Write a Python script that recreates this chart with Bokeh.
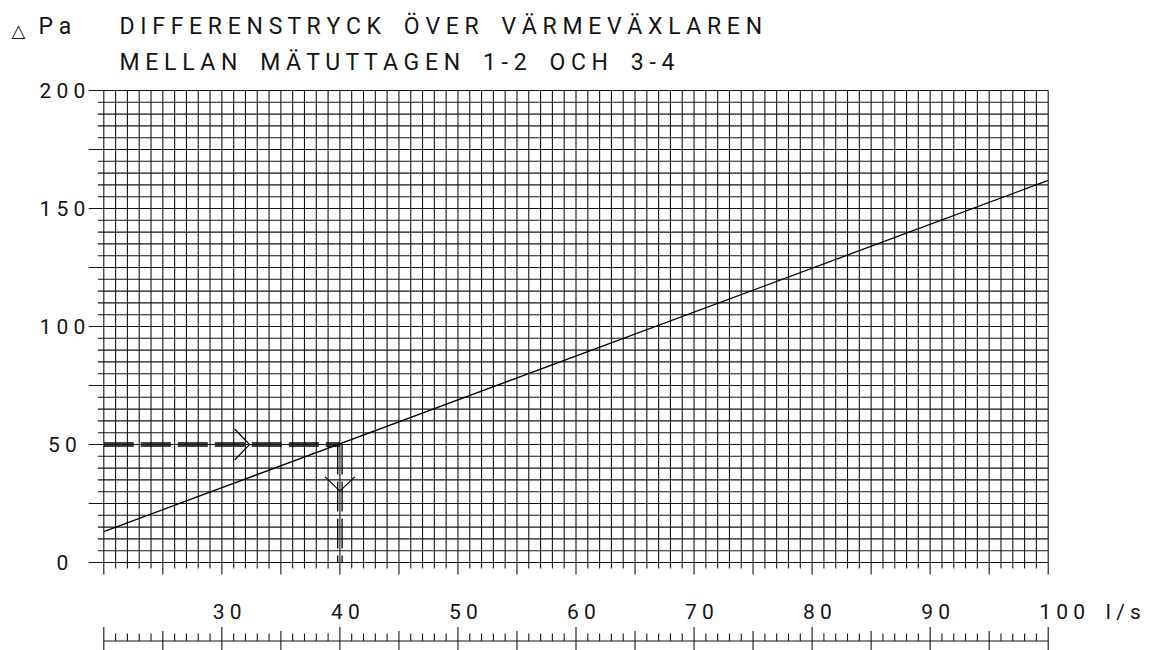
import numpy as np
from bokeh.plotting import figure
from bokeh.models import Range1d
from bokeh.core.properties import value
from bokeh.embed import file_html
from bokeh.resources import INLINE

# ---------------- data ----------------
flow_min, flow_max = 20, 100          # l/s
dp_min, dp_max = 0, 200               # Pa
flow_ticks = [30, 40, 50, 60, 70, 80, 90, 100]
flow_labels = ["30", "40", "50", "60", "70", "80", "90", "100 l/s"]
dp_ticks = [0, 50, 100, 150, 200]
dp_labels = ["0", "50", "100", "150", "200"]
curve_flow = [20, 100]
curve_dp = [13.1, 161.9]
example_flow = 40
example_dp = 50
arrow_h_flow = 32.35
arrow_v_dp = 30.2
title_text = ["DIFFERENSTRYCK ÖVER VÄRMEVÄXLAREN", "MELLAN MÄTUTTAGEN 1-2 OCH 3-4"]
unit_text = "Pa"

# ---------------- layout ----------------
PXX = 11.805     # px per l/s
PXY = 2.36       # px per Pa
REF_X20 = 103.3  # page px of flow 20
REF_Y0 = 562.0   # page px of 0 Pa
W, H = 1156, 650

x_start = flow_min - REF_X20 / PXX
x_end = x_start + W / PXX
y_top = REF_Y0 / PXY
y_bot = y_top - H / PXY

def fx(px):
    return flow_min + (px - REF_X20) / PXX

def fy(px):
    return (REF_Y0 - px) / PXY

def dx(px):
    return px / PXX

def dy(px):
    return px / PXY

INK = "#141414"
FONT = value("Roboto")
NB = "\u00a0"

def spaced(s, word_gap=4):
    gap = " " + NB * (word_gap - 2) + " "
    return gap.join(" ".join(w) for w in s.split())

p = figure(width=W, height=H, x_range=Range1d(x_start, x_end), y_range=Range1d(y_bot, y_top),
           output_backend="svg", toolbar_location=None, x_axis_type=None, y_axis_type=None,
           min_border=0, min_border_left=0, min_border_right=0, min_border_top=0, min_border_bottom=0)
p.outline_line_color = None
p.background_fill_color = "white"
p.border_fill_color = "white"

# grid: vertical lines every 1 l/s
gx = np.arange(flow_min, flow_max + 1, 1)
v_ext = np.where(gx % 5 == 0, dy(12), dy(6))
p.segment(x0=gx, y0=dp_min - v_ext, x1=gx, y1=dp_max, line_color=INK, line_width=1.1)

# grid: horizontal lines every 5 Pa
gy = np.arange(dp_min, dp_max + 1, 5)
h_ext = np.where(gy % 25 == 0, dx(15), dx(6))
p.segment(x0=flow_min - h_ext, y0=gy, x1=flow_max, y1=gy, line_color=INK, line_width=1.1)

# bottom ruler
ruler_y = fy(640.5)
p.segment(x0=[flow_min], y0=[ruler_y], x1=[flow_max], y1=[ruler_y], line_color=INK, line_width=1.1)
up = np.where(gx % 10 == 0, 14, np.where(gx % 5 == 0, 10, 7.5))
down = np.where(gx % 5 == 0, 14, 0)
p.segment(x0=gx, y0=ruler_y - dy(down), x1=gx, y1=ruler_y + dy(up), line_color=INK, line_width=1.1)

# ruler labels (anchor = visual centre of digits)
p.text(x=flow_ticks, y=[fy(611.5)] * len(flow_ticks), text=[spaced(t) for t in flow_labels],
       x_offset=-9, text_align="left", text_baseline="middle", text_font=FONT,
       text_font_size="21px", text_color=INK)

# y labels
p.text(x=[fx(62)] * len(dp_ticks), y=dp_ticks, text=[spaced(t) for t in dp_labels],
       text_align="center", text_baseline="middle", text_font=FONT,
       text_font_size="21px", text_color=INK)

# titles
p.text(x=[fx(119)] * 2, y=[fy(26), fy(62)], text=[spaced(t) for t in title_text],
       text_align="left", text_baseline="middle", text_font=FONT,
       text_font_size="23px", text_color=INK)
p.text(x=[fx(38)], y=[fy(26)], text=[spaced(unit_text)], text_align="left",
       text_baseline="middle", text_font=FONT, text_font_size="23px", text_color=INK)
p.text(x=[fx(11)], y=[fy(30)], text=["△"], text_align="left", text_baseline="middle",
       text_font=value("DejaVu Sans"), text_font_size="18px", text_color=INK)

# curve
p.line(curve_flow, curve_dp, line_color="black", line_width=1.3)

# dashed double guide lines
for o in (-dy(1.5), dy(1.5)):
    p.line([flow_min, example_flow], [example_dp + o] * 2, line_color="black",
           line_width=1.4, line_dash="30 7")
for o in (-dx(2.2), dx(2.2)):
    p.line([example_flow + o] * 2, [example_dp, dp_min], line_color="black",
           line_width=1.3, line_dash="30 7")

# arrow heads
p.line([arrow_h_flow - dx(15), arrow_h_flow, arrow_h_flow - dx(15)],
       [example_dp + dy(15.5), example_dp, example_dp - dy(15.5)], line_color="black", line_width=1.1)
p.line([example_flow - dx(15), example_flow, example_flow + dx(15)],
       [arrow_v_dp + dy(14.7), arrow_v_dp, arrow_v_dp + dy(14.7)], line_color="black", line_width=1.1)

with open("out.html", "w", encoding="utf-8") as f:
    f.write(file_html(p, INLINE))
